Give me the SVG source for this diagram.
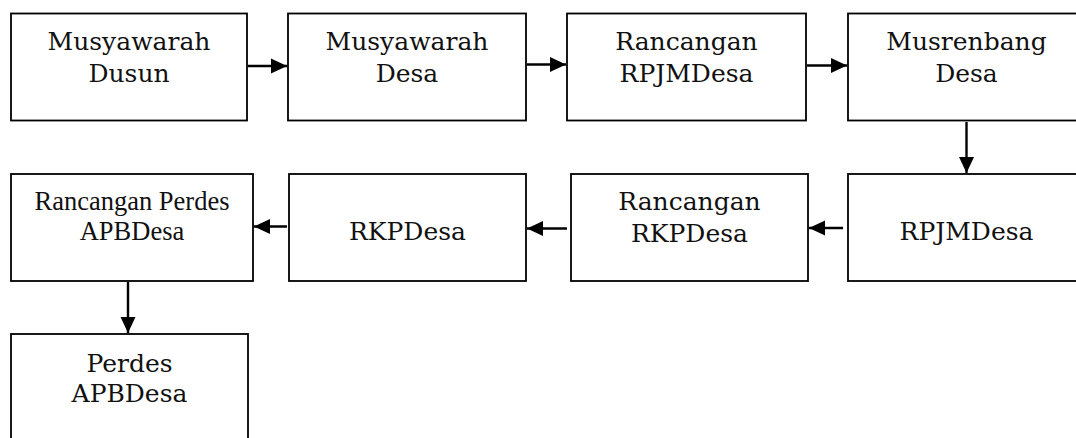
<svg xmlns="http://www.w3.org/2000/svg" width="1076" height="438" viewBox="0 0 1076 438">
<style>
.box{fill:#fff;stroke:#000;stroke-width:1.8}
.t{font-family:"DejaVu Serif","Liberation Serif",serif;font-size:25px;fill:#111;text-anchor:middle}
.tt{font-family:"Liberation Serif","Times New Roman",serif;font-size:26.5px;fill:#111;text-anchor:middle}
.c{stroke:#000;stroke-width:2.4;fill:none;marker-end:url(#ah)}
</style>
<defs>
<marker id="ah" viewBox="0 0 16 16" refX="16" refY="8" markerWidth="16" markerHeight="16" markerUnits="userSpaceOnUse" orient="auto">
<path d="M0,0.5 L16,8 L0,15.5 z" fill="#000"/>
</marker>
</defs>
<rect width="1076" height="438" fill="#fff"/>
<g id="n1"><rect class="box" x="11" y="13.5" width="236" height="107"/><text class="t" x="129" y="50">Musyawarah</text><text class="t" x="129" y="82">Dusun</text></g>
<g id="n2"><rect class="box" x="288" y="13.5" width="238" height="107"/><text class="t" x="407" y="50">Musyawarah</text><text class="t" x="407" y="82">Desa</text></g>
<g id="n3"><rect class="box" x="567" y="13.5" width="239" height="107"/><text class="t" x="686.5" y="50">Rancangan</text><text class="t" x="686.5" y="82">RPJMDesa</text></g>
<g id="n4"><rect class="box" x="848" y="13.5" width="237" height="107"/><text class="t" x="966.5" y="50">Musrenbang</text><text class="t" x="966.5" y="82">Desa</text></g>
<g id="n5"><rect class="box" x="11" y="174" width="242" height="107"/><text class="tt" x="132" y="210">Rancangan Perdes</text><text class="tt" x="132" y="240">APBDesa</text></g>
<g id="n6"><rect class="box" x="289" y="174" width="237" height="107"/><text class="t" x="407.5" y="240">RKPDesa</text></g>
<g id="n7"><rect class="box" x="571" y="174" width="237" height="107"/><text class="t" x="689.5" y="210">Rancangan</text><text class="t" x="689.5" y="241.5">RKPDesa</text></g>
<g id="n8"><rect class="box" x="848" y="174" width="237" height="107"/><text class="t" x="966.5" y="240">RPJMDesa</text></g>
<g id="n9"><rect class="box" x="11" y="334" width="237" height="120"/><text class="t" x="129.5" y="371.5">Perdes</text><text class="t" x="129.5" y="401.5">APBDesa</text></g>
<g id="connectors">
<line class="c" x1="248" y1="66" x2="287" y2="66"/>
<line class="c" x1="527" y1="64.5" x2="566" y2="64.5"/>
<line class="c" x1="807" y1="65.5" x2="847" y2="65.5"/>
<line class="c" x1="966.5" y1="122" x2="966.5" y2="173"/>
<line class="c" x1="843" y1="228" x2="809" y2="228"/>
<line class="c" x1="567" y1="228.5" x2="527" y2="228.5"/>
<line class="c" x1="287" y1="226.5" x2="254" y2="226.5"/>
<line class="c" x1="128" y1="282" x2="128" y2="333"/>
</g>
</svg>
